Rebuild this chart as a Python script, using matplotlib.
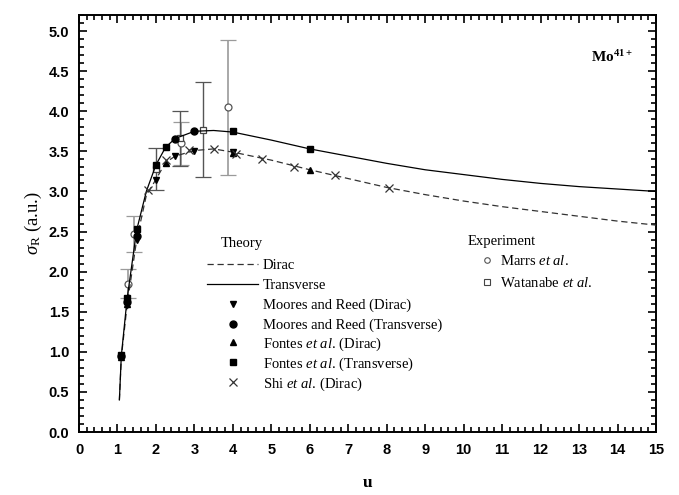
import matplotlib
matplotlib.use("Agg")
import matplotlib.pyplot as plt
from matplotlib.ticker import MultipleLocator, FormatStrFormatter
from matplotlib.lines import Line2D

plt.rcParams['mathtext.fontset'] = 'custom'
plt.rcParams['mathtext.rm'] = 'Liberation Serif'
plt.rcParams['mathtext.it'] = 'Liberation Serif:italic'
plt.rcParams['mathtext.bf'] = 'Liberation Serif:bold'

# Theory curves
u_trans = [1.05, 1.1, 1.25, 1.5, 1.75, 2.0, 2.25, 2.5, 3.0, 3.5, 4.0, 5.0, 6.0, 7.0, 8.0, 9.0, 10.0, 11.0, 12.0, 13.0, 14.0, 15.0]
s_trans = [0.40, 0.95, 1.66, 2.52, 3.00, 3.33, 3.55, 3.66, 3.75, 3.76, 3.74, 3.64, 3.53, 3.44, 3.35, 3.27, 3.21, 3.15, 3.10, 3.06, 3.03, 3.00]
u_dirac = [1.05, 1.1, 1.25, 1.5, 1.75, 2.0, 2.25, 2.5, 3.0, 3.5, 4.0, 5.0, 6.0, 7.0, 8.0, 9.0, 10.0, 11.0, 12.0, 13.0, 14.0, 15.0]
s_dirac = [0.40, 0.93, 1.58, 2.40, 2.95, 3.15, 3.36, 3.44, 3.51, 3.53, 3.49, 3.39, 3.27, 3.16, 3.05, 2.96, 2.88, 2.81, 2.75, 2.69, 2.63, 2.58]

# Theory points
mr_d_u = [1.1, 1.25, 1.5, 2.0, 2.5, 3.0, 4.0]
mr_d_s = [0.93, 1.58, 2.40, 3.14, 3.44, 3.51, 3.49]
mr_t_u = [1.1, 1.25, 1.5, 2.5, 3.0]
mr_t_s = [0.95, 1.62, 2.45, 3.65, 3.75]
fo_d_u = [1.1, 1.25, 2.25, 4.0, 6.0]
fo_d_s = [0.94, 1.60, 3.35, 3.48, 3.27]
fo_t_u = [1.1, 1.25, 1.5, 2.0, 2.25, 4.0, 6.0]
fo_t_s = [0.96, 1.67, 2.53, 3.33, 3.55, 3.75, 3.53]
shi_u = [1.8, 2.25, 2.85, 3.5, 4.07, 4.75, 5.6, 6.65, 8.05]
shi_s = [3.02, 3.39, 3.52, 3.53, 3.47, 3.41, 3.30, 3.20, 3.04]

# Experiments
marrs_u = [1.28, 1.43, 2.64, 3.88]
marrs_s = [1.85, 2.47, 3.60, 4.05]
marrs_e = [0.18, 0.22, 0.27, 0.84]
wat_u = [2.0, 2.62, 3.22]
wat_s = [3.28, 3.66, 3.77]
wat_e = [0.26, 0.34, 0.59]

fig = plt.figure(figsize=(6.79, 4.95), dpi=100)
ax = fig.add_axes([79/679, 1-432/495, 577/679, 417/495])

ax.errorbar(marrs_u, marrs_s, yerr=marrs_e, fmt='o', mfc='white', mec='#555555',
            ms=5, mew=0.9, ecolor='#9a9a9a', elinewidth=1.2, capsize=6, capthick=1.2, zorder=2)
ax.errorbar(wat_u, wat_s, yerr=wat_e, fmt='s', mfc='white', mec='#444444',
            ms=5, mew=0.9, ecolor='#555555', elinewidth=1.0, capsize=6, capthick=1.0, zorder=2)

ax.plot(u_dirac, s_dirac, color='#333333', lw=0.9, ls=(0, (5, 3)), zorder=3)
ax.plot(u_trans, s_trans, color='black', lw=0.9, zorder=3)

ax.plot(mr_d_u, mr_d_s, 'v', color='black', ms=5, ls='none', zorder=4)
ax.plot(mr_t_u, mr_t_s, 'o', color='black', ms=5, ls='none', zorder=4)
ax.plot(fo_d_u, fo_d_s, '^', color='black', ms=5, ls='none', zorder=4)
ax.plot(fo_t_u, fo_t_s, 's', color='black', ms=5, ls='none', zorder=4)
ax.plot(shi_u, shi_s, 'x', color='#333333', ms=5.5, mew=0.9, ls='none', zorder=4)

ax.set_xlim(0, 15)
ax.set_ylim(0, 5.2)
ax.xaxis.set_major_locator(MultipleLocator(1))
ax.xaxis.set_minor_locator(MultipleLocator(0.2))
ax.yaxis.set_major_locator(MultipleLocator(0.5))
ax.yaxis.set_minor_locator(MultipleLocator(0.1))
ax.yaxis.set_major_formatter(FormatStrFormatter('%.1f'))
ax.tick_params(which='both', direction='in', top=True, right=True, width=1.2)
ax.tick_params(which='major', length=6)
ax.tick_params(which='minor', length=3.5)
ax.tick_params(axis='x', which='major', pad=8)
ax.tick_params(axis='y', which='major', pad=7)
for lab in ax.get_xticklabels() + ax.get_yticklabels():
    lab.set_fontfamily('Liberation Sans')
    lab.set_fontweight('bold')
    lab.set_fontsize(10.5)
for sp in ax.spines.values():
    sp.set_linewidth(1.4)

ax.set_xlabel('u', fontfamily='Liberation Serif', fontweight='bold', fontsize=12.5, labelpad=13)
ax.set_ylabel(r'$\sigma_{\mathrm{R}}$ (a.u.)', fontfamily='Liberation Serif', fontsize=13.5, labelpad=3)

ax.text(13.3, 4.68, r'Mo$^{\mathbf{41+}}$', fontfamily='Liberation Serif', fontweight='bold',
        fontsize=11, ha='left', va='center')

fs = 10.5
prop = {'family': 'Liberation Serif', 'size': fs}
ax.text(0.246, 0.451, 'Theory', transform=ax.transAxes, fontfamily='Liberation Serif',
        fontsize=fs, ha='left', va='center')
ax.text(0.674, 0.458, 'Experiment', transform=ax.transAxes, fontfamily='Liberation Serif',
        fontsize=fs, ha='left', va='center')

# plain-text theory rows
th1_handles = [
    Line2D([], [], color='#333333', lw=0.9, ls=(0, (5, 3))),
    Line2D([], [], color='black', lw=0.9),
    Line2D([], [], marker='v', color='black', ms=5, ls='none'),
    Line2D([], [], marker='o', color='black', ms=5, ls='none'),
]
th1_labels = ['Dirac', 'Transverse', 'Moores and Reed (Dirac)', 'Moores and Reed (Transverse)']
leg1 = ax.legend(th1_handles, th1_labels, loc='upper left', bbox_to_anchor=(0.222, 0.4153),
                 frameon=False, borderpad=0, borderaxespad=0, handlelength=3.5,
                 handletextpad=0.3, labelspacing=0.456, prop=prop)
ax.add_artist(leg1)

# rows with italic "et al."
th2_handles = [
    Line2D([], [], marker='^', color='black', ms=5, ls='none'),
    Line2D([], [], marker='s', color='black', ms=5, ls='none'),
    Line2D([], [], marker='x', color='#333333', ms=5.5, mew=0.9, ls='none'),
]
th2_labels = [r'Fontes $\it{et\ al.}\,$(Dirac)', r'Fontes $\it{et\ al.}\,$(Transverse)',
              r'Shi $\it{et\ al.}\,$(Dirac)']
leg2 = ax.legend(th2_handles, th2_labels, loc='upper left', bbox_to_anchor=(0.222, 0.2319),
                 frameon=False, borderpad=0, borderaxespad=0, handlelength=3.5,
                 handletextpad=0.3, labelspacing=0.18, prop=prop)
ax.add_artist(leg2)

ex_handles = [
    Line2D([], [], marker='o', mfc='white', mec='#555555', ms=4, mew=0.8, ls='none'),
    Line2D([], [], marker='s', mfc='white', mec='#444444', ms=4, mew=0.8, ls='none'),
]
ex_labels = [r'Marrs $\it{et\ al.}$', r'Watanabe $\it{et\ al.}$']
ax.legend(ex_handles, ex_labels, loc='upper left', bbox_to_anchor=(0.6945, 0.4269),
          frameon=False, borderpad=0, borderaxespad=0, handlelength=1.0,
          handletextpad=0.39, labelspacing=0.55, prop=prop)

fig.savefig('out.png', dpi=100)
